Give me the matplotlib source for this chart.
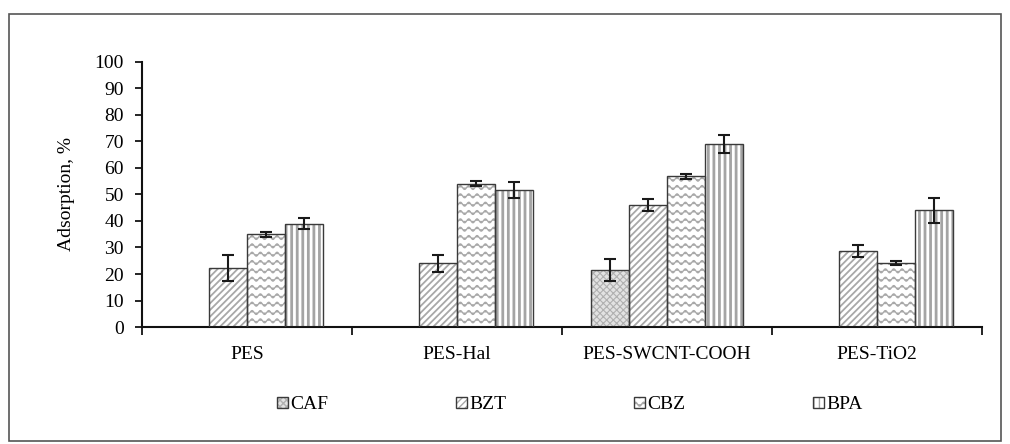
import warnings
import matplotlib
matplotlib.use("Agg")
import matplotlib.pyplot as plt
import matplotlib.hatch as mhatch
from matplotlib.path import Path
from matplotlib.patches import Rectangle
from matplotlib.legend_handler import HandlerTuple
import numpy as np

warnings.filterwarnings("ignore")

# data
membranes = ["PES", "PES-Hal", "PES-SWCNT-COOH", "PES-TiO2"]
compounds = ["CAF", "BZT", "CBZ", "BPA"]
caf = [np.nan, np.nan, 21.5, np.nan]
bzt = [22.3, 24.0, 46.0, 28.6]
cbz = [35.0, 54.1, 56.8, 24.2]
bpa = [39.0, 51.6, 69.0, 44.0]
caf_err = [np.nan, np.nan, 4.2, np.nan]
bzt_err = [5.0, 3.2, 2.2, 2.3]
cbz_err = [1.0, 1.0, 1.0, 0.8]
bpa_err = [2.2, 3.0, 3.5, 4.7]


# wavy hatch, not in matplotlib by default
class WavyHatch(mhatch.HatchPatternBase):
    def __init__(self, hatch, density):
        self.num_lines = int(hatch.count('~') * density)
        self.num_pts = self.num_lines * 10 + 1
        self.num_vertices = self.num_lines * self.num_pts

    def set_vertices_and_codes(self, vertices, codes):
        xs = np.linspace(0, 1, self.num_pts)
        step = 1.0 / self.num_lines
        wave = 0.24 * step * np.sin(2 * np.pi * self.num_lines * xs)
        for i in range(self.num_lines):
            a = i * self.num_pts
            vertices[a:a + self.num_pts, 0] = xs
            vertices[a:a + self.num_pts, 1] = (i + 0.5) * step + wave
            codes[a:a + self.num_pts] = Path.LINETO
            codes[a] = Path.MOVETO


mhatch._hatch_types.append(WavyHatch)

plt.rcParams['font.family'] = ['Liberation Serif', 'DejaVu Serif']
plt.rcParams['font.size'] = 14

fig = plt.figure(figsize=(10.1, 4.44), dpi=100)
ax = fig.add_axes([0.1406, 0.2635, 0.8317, 0.5969])

x = np.arange(len(membranes))
w = 0.181
series = [caf, bzt, cbz, bpa]
errs = [caf_err, bzt_err, cbz_err, bpa_err]
hatches = ['xxxxx', '/////', '~~', '|||']
faces = ['#e2e2e2', 'white', 'white', 'white']
hcols = ['#b0b0b0', '#a8a8a8', '#a8a8a8', '#a4a4a4']
hlw = [0.8, 1.3, 0.9, 2.0]

handles = []
for i, (vals, err) in enumerate(zip(series, errs)):
    pos = x + (i - 1.5) * w
    with plt.rc_context({'hatch.linewidth': hlw[i]}):
        h1 = ax.bar(pos, vals, w, color=faces[i], hatch=hatches[i],
                    edgecolor=hcols[i], linewidth=0, zorder=2)
    h2 = ax.bar(pos, vals, w, fill=False, edgecolor='#3a3a3a',
                linewidth=1.0, zorder=3)
    ax.errorbar(pos, vals, yerr=err, fmt='none', ecolor='#1a1a1a',
                elinewidth=1.5, capsize=4, capthick=1.5, zorder=4)
    handles.append((h1[0], h2[0]))

ax.set_xlim(-0.5, 3.5)
ax.set_ylim(0, 100)
ax.set_yticks(range(0, 101, 10))
ax.set_xticks(x)
ax.set_xticklabels(membranes)
ax.set_xticks(np.arange(-0.5, 3.6, 1.0), minor=True)
ax.tick_params(axis='x', which='major', length=0, pad=14)
ax.tick_params(axis='x', which='minor', length=6, width=1.2, direction='out')
ax.tick_params(axis='y', length=5, width=1.2, direction='out', pad=8)
ax.set_ylabel("Adsorption, %", labelpad=14)

for s in ['top', 'right']:
    ax.spines[s].set_visible(False)
for s in ['left', 'bottom']:
    ax.spines[s].set_linewidth(1.5)
    ax.spines[s].set_color('#111111')

fig.legend(handles, compounds, loc='center', bbox_to_anchor=(0.5645, 0.088),
           ncol=4, frameon=False, handlelength=0.55, handleheight=0.55,
           handletextpad=0.15, columnspacing=6.55,
           handler_map={tuple: HandlerTuple(ndivide=1)})

fig.add_artist(Rectangle((0.0094, 0.0068), 0.9816, 0.9617, fill=False,
                         edgecolor='#555555', linewidth=1.2,
                         transform=fig.transFigure))

fig.savefig("out.png", dpi=100)
